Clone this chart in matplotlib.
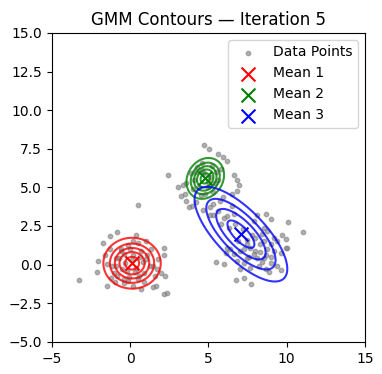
import numpy as np
from matplotlib import pyplot as plt

# data points (x, y)
red_pts = [(-3.26, -1.0), (-1.32, 1.86), (-0.81, 2.12), (0.35, 1.93), (-1.71, 1.38),
           (-2.03, 0.24), (-2.1, -0.48), (-1.45, -1.39), (2.16, 1.06), (2.16, 0.61),
           (2.2, -0.74), (1.67, -1.39), (1.45, -1.45), (2.16, -1.92), (2.38, -1.82),
           (0.70, -1.56), (1.02, 1.54), (1.77, 0.39), (1.35, 0.98), (-1.28, 1.0),
           (-1.13, -0.09), (-0.81, -0.74), (-0.16, -1.06), (0.48, -0.96), (0.53, 3.87),
           (-0.59, 1.0), (-0.38, 0.67), (0.70, 0.89), (1.02, 0.35), (1.24, -0.09),
           (0.91, -0.52), (0.59, -0.74), (-0.91, 0.45), (-1.02, -0.52), (-0.38, -0.95),
           (-1.24, -0.85), (1.45, -0.09), (1.56, -0.74), (-0.16, 1.26), (0.48, 1.43),
           (-1.45, 0.02), (0.16, -1.39), (1.99, -0.52), (0.1, 0.3), (-0.3, 0.1),
           (0.4, -0.2), (-0.5, -0.3), (0.2, 0.6), (-0.7, 0.4), (0.8, 0.2),
           (0.3, -0.5), (-0.2, -0.4), (0.6, 0.5), (-0.9, -0.1), (1.1, 0.6),
           (-0.6, 0.9), (0.0, 1.0), (-0.1, -0.8), (0.9, -1.1), (-1.6, 0.6),
           (1.7, -0.3), (-0.4, -1.2), (0.2, 1.5), (-1.0, -1.1)]
green_pts = [(4.7, 7.77), (5.06, 7.5), (5.6, 7.18), (5.95, 6.95), (6.2, 6.7),
             (6.61, 5.8), (6.85, 5.45), (6.93, 5.18), (6.83, 4.78), (3.06, 5.0),
             (3.36, 5.13), (3.6, 5.28), (3.22, 4.42), (3.5, 4.55), (3.6, 4.13),
             (2.42, 5.82), (3.75, 3.70), (3.97, 3.81), (4.18, 4.03), (4.63, 3.53),
             (5.09, 3.70), (5.11, 3.20), (5.32, 3.23), (5.75, 4.11), (5.92, 4.35),
             (6.51, 4.57), (4.3, 6.3), (4.6, 6.6), (5.2, 6.4), (5.5, 6.0),
             (4.1, 5.5), (4.4, 5.0), (5.0, 5.0), (5.4, 5.3), (4.7, 5.9),
             (5.1, 5.7), (4.0, 4.9), (4.5, 4.5), (5.6, 5.5), (4.2, 6.0),
             (5.8, 6.2), (4.8, 4.6), (5.3, 4.7), (3.9, 5.9), (4.6, 6.1), (4.95, 5.35)]
blue_pts = [(10.1, 2.73), (11.06, 2.08), (8.66, 3.27), (8.98, 2.94), (8.55, 2.40),
            (9.73, 1.93), (9.41, 1.54), (9.95, 1.10), (9.62, 0.78), (5.5, 0.19),
            (5.97, 0.02), (6.14, 0.78), (6.4, 1.0), (7.9, 2.84), (8.13, 3.2),
            (6.78, -1.0), (7.26, -0.84), (7.71, -1.28), (9.62, -0.35), (10.05, 1.06),
            (9.94, 1.64), (6.5, 3.81), (6.61, 3.27), (6.18, 3.16), (8.98, 0.13),
            (9.41, -0.09), (8.23, -0.09), (8.55, 0.45), (7.9, 0.67), (8.77, 1.0),
            (8.98, 1.32), (8.33, 1.32), (7.69, 1.1), (8.01, 1.75), (8.44, 1.97),
            (8.55, 1.54), (9.19, 1.75), (8.77, 2.19), (7.48, 0.45), (7.04, 0.89),
            (6.61, 0.67), (6.18, 1.1), (7.26, 0.13), (7.69, -0.19), (8.66, -0.3),
            (6.83, 0.24), (8.12, 0.45), (7.48, 1.32), (5.3, 3.9), (5.6, 3.5),
            (6.0, 3.0), (5.8, 2.6), (6.3, 2.4), (6.7, 2.6), (7.2, 2.3),
            (7.5, 1.6), (6.9, 1.5), (7.3, 1.0), (7.8, 1.9), (8.0, 0.9),
            (8.3, 0.8), (8.7, 0.6), (7.6, 0.5), (8.4, 0.2), (9.0, 0.5),
            (8.9, -0.5), (9.2, 0.9), (7.0, -0.3)]

# GMM parameters at iteration 5
means = [(0.12, 0.09), (4.8, 5.58), (7.08, 1.97)]
covs = [[[0.98, 0.0], [0.0, 0.79]],
        [[0.42, 0.08], [0.08, 0.51]],
        [[2.9, -2.2], [-2.2, 3.1]]]
colors = ['red', 'green', 'blue']
labels = ['Mean 1', 'Mean 2', 'Mean 3']


def gauss_pdf(X, Y, mu, cov):
    cov = np.array(cov)
    inv = np.linalg.inv(cov)
    dx = X - mu[0]
    dy = Y - mu[1]
    q = inv[0, 0]*dx*dx + 2*inv[0, 1]*dx*dy + inv[1, 1]*dy*dy
    return np.exp(-0.5*q) / (2*np.pi*np.sqrt(np.linalg.det(cov)))


pts = np.array(red_pts + green_pts + blue_pts)

# contour levels as fractions of each component's peak
fracs = [[0.18, 0.36, 0.54, 0.72, 0.90],
         [0.18, 0.36, 0.54, 0.72, 0.90],
         [0.22, 0.43, 0.65, 0.88]]

fig = plt.figure(figsize=(3.82, 3.74), dpi=100)
ax = fig.add_axes([0.136, 0.086, 0.819, 0.826])
ax.scatter(pts[:, 0], pts[:, 1], s=10, c='gray', alpha=0.6, label='Data Points')

xs = np.linspace(-5, 15, 500)
ys = np.linspace(-5, 15, 500)
X, Y = np.meshgrid(xs, ys)
for mu, cov, c, lab, fr in zip(means, covs, colors, labels, fracs):
    Z = gauss_pdf(X, Y, mu, cov)
    ax.contour(X, Y, Z, levels=np.array(fr)*Z.max(), colors=c, alpha=0.8)
    ax.scatter(mu[0], mu[1], marker='x', s=100, c=c, label=lab)

ax.set_xlim(-5, 15)
ax.set_ylim(-5, 15)
ax.set_title('GMM Contours — Iteration 5')
ax.legend(loc='upper right')
fig.savefig('out.png')
